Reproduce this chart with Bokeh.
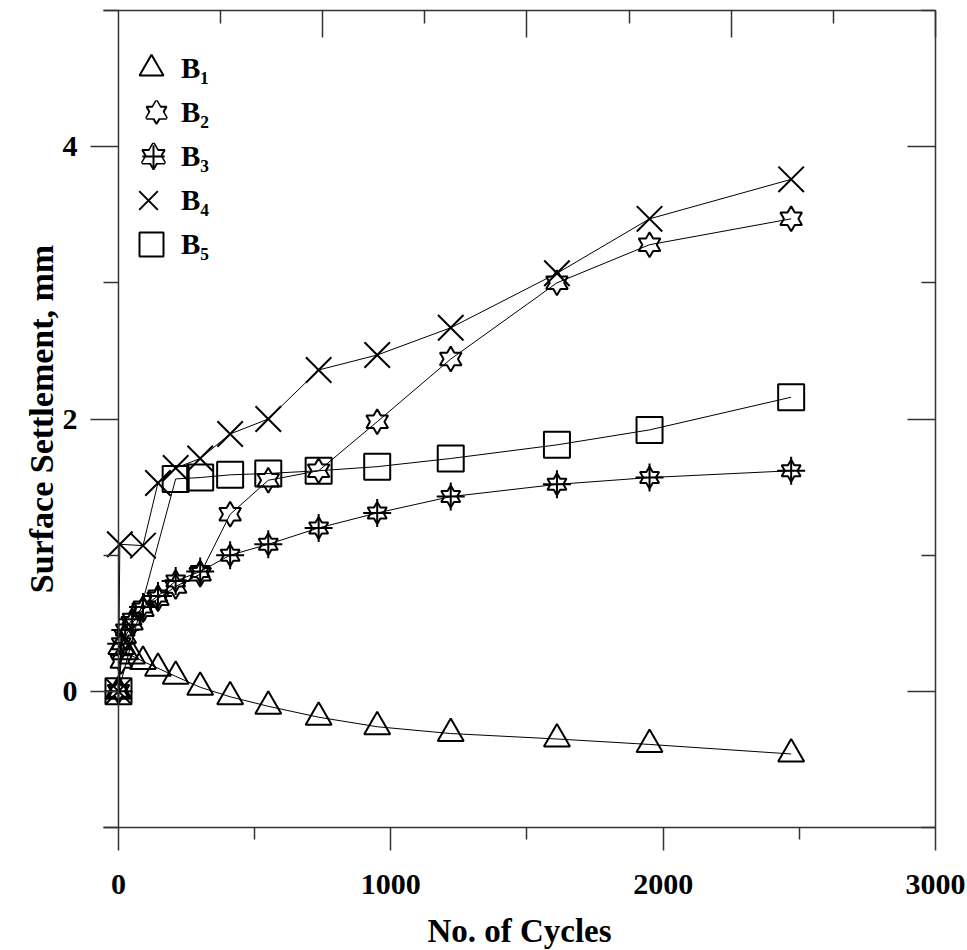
import math
from bokeh.plotting import figure
from bokeh.models import LinearAxis, FixedTicker, Span, Legend, LegendItem, Range1d
from bokeh.embed import file_html
from bokeh.resources import INLINE

# ---------------- data ----------------
cycles = [0, 10, 25, 50, 90, 145, 210, 300, 410, 550, 735, 950, 1220, 1610, 1950, 2470]
b1 = [0, 0.33, 0.29, 0.26, 0.22, 0.17, 0.11, 0.03, -0.04, -0.11, -0.19, -0.26, -0.31, -0.35, -0.39, -0.46]
b2 = [0, 0.22, 0.40, 0.50, 0.60, 0.68, 0.77, 0.86, 1.30, 1.55, 1.62, 1.98, 2.44, 3.00, 3.28, 3.47]
b3 = [0, 0.35, 0.45, 0.53, 0.62, 0.70, 0.81, 0.88, 1.00, 1.08, 1.20, 1.31, 1.43, 1.52, 1.57, 1.62]
cycles_b4 = [0, 5, 90, 145, 210, 300, 410, 550, 735, 950, 1220, 1610, 1950, 2470]
b4 = [0, 1.08, 1.07, 1.53, 1.64, 1.71, 1.89, 2.00, 2.36, 2.47, 2.67, 3.07, 3.47, 3.76]
cycles_b5 = [0, 210, 300, 410, 550, 735, 950, 1220, 1610, 1950, 2470]
b5 = [0, 1.56, 1.57, 1.59, 1.60, 1.62, 1.65, 1.71, 1.81, 1.92, 2.16]
series_labels = ["B\u2081", "B\u2082", "B\u2083", "B\u2084", "B\u2085"]

x_ticks = [0, 1000, 2000, 3000]
x_minor = [500, 1500, 2500]
top_ticks = [750, 1500, 2250, 3000]
top_minor = [375, 1125, 1875, 2625]
y_ticks = [0, 2, 4]
y_minor = [-1, 1, 3, 5]

# ---------------- layout / style ----------------
X0, X1 = -55, 3000
Y0, Y1 = -1, 5
FW, FH = 832, 817
FL, FT = 103, 10          # frame left / top in page pixels
FONT = "Liberation Serif"
AX = "#333333"
AXW = 1.5

p = figure(frame_width=FW, frame_height=FH,
           x_range=Range1d(X0, X1), y_range=Range1d(Y0, Y1),
           x_axis_type=None, y_axis_type=None,
           min_border_left=FL, min_border_right=32, min_border_top=FT, min_border_bottom=123,
           output_backend="svg", toolbar_location=None)
p.outline_line_color = None
p.background_fill_color = "white"
p.border_fill_color = "white"


def style(ax, ticks=None):
    ax.axis_line_color = AX
    ax.axis_line_width = AXW
    ax.major_tick_line_color = AX
    ax.major_tick_line_width = AXW
    ax.minor_tick_line_color = AX
    ax.minor_tick_line_width = AXW
    ax.major_label_text_font = FONT
    ax.major_label_text_font_style = "bold"
    ax.major_label_text_color = "black"
    ax.axis_label_text_font = FONT
    ax.axis_label_text_font_style = "bold"
    ax.axis_label_text_color = "black"
    if ticks is not None:
        ax.major_label_overrides = {t: "" for t in ticks}
        ax.major_label_standoff = 0


xb = LinearAxis(ticker=FixedTicker(ticks=x_ticks, minor_ticks=x_minor), axis_label="No. of Cycles")
style(xb)
xb.major_tick_out, xb.major_tick_in = 23, 0
xb.minor_tick_out, xb.minor_tick_in = 12, 0
xb.major_label_text_font_size = "30px"
xb.major_label_standoff = 24
xb.axis_label_text_font_size = "33px"
xb.axis_label_standoff = 16
p.add_layout(xb, "below")

yl = LinearAxis(ticker=FixedTicker(ticks=y_ticks, minor_ticks=y_minor), axis_label="Surface Settlement, mm")
style(yl)
yl.axis_line_color = None
yl.major_tick_out, yl.major_tick_in = 13, 15
yl.minor_tick_out, yl.minor_tick_in = 0, 15
yl.major_label_text_font_size = "30px"
yl.major_label_standoff = 13
yl.axis_label_text_font_size = "34px"
yl.axis_label_standoff = 0
p.add_layout(yl, "left")

yr = LinearAxis(ticker=FixedTicker(ticks=y_ticks, minor_ticks=y_minor))
style(yr, y_ticks)
yr.major_tick_out, yr.major_tick_in = 0, 28
yr.minor_tick_out, yr.minor_tick_in = 0, 14
p.add_layout(yr, "right")

xt = LinearAxis(ticker=FixedTicker(ticks=top_ticks, minor_ticks=top_minor))
style(xt, top_ticks)
xt.major_tick_out, xt.major_tick_in = 0, 27
xt.minor_tick_out, xt.minor_tick_in = 0, 13
p.add_layout(xt, "above")

p.add_layout(Span(location=0, dimension="height", line_color=AX, line_width=AXW))

# ---------------- data marks ----------------
KX = FW / (X1 - X0)
KY = FH / (Y1 - Y0)


def hexagrams(xs, ys, R):
    pxs, pys = [], []
    for cx, cy in zip(xs, ys):
        hx, hy = [], []
        for k in range(12):
            a = math.radians(90 + 30 * k)
            r = R if k % 2 == 0 else R / math.sqrt(3)
            hx.append(cx + r * math.cos(a) / KX)
            hy.append(cy + r * math.sin(a) / KY)
        pxs.append(hx)
        pys.append(hy)
    return pxs, pys


MK = dict(fill_alpha=0, line_color="black", line_width=2)
LN = dict(line_color="black", line_width=1)

# B1 triangles
p.scatter(cycles, b1, marker="triangle", size=26, **MK)
# B2 hexagram
hx, hy = hexagrams(cycles, b2, 12.5)
p.patches(hx, hy, fill_alpha=0, line_color="black", line_width=2)
# B3 hexagram + cross
hx3, hy3 = hexagrams(cycles, b3, 11)
p.patches(hx3, hy3, fill_alpha=0, line_color="black", line_width=2)
p.scatter(cycles, b3, marker="cross", size=28, **MK)
# B4 x
p.scatter(cycles_b4, b4, marker="x", size=36, **MK)
# B5 squares
p.scatter(cycles_b5, b5, marker="square", size=26, **MK)

p.line(cycles, b1, **LN)
p.line(cycles, b2, **LN)
p.line(cycles, b3, **LN)
p.line(cycles_b4, b4, **LN)
p.line(cycles_b5, b5, **LN)

# ---------------- legend (legend-only renderers, nothing drawn in the plot) ----------------
NAN = float("nan")
e = dict(x=[NAN], y=[NAN])
l_tri = p.scatter(marker="triangle", fill_alpha=0, line_color="black", line_width=2, **e)
l2a = p.scatter(marker="triangle", fill_color="white", line_color="black", line_width=3, **e)
l2b = p.scatter(marker="inverted_triangle", fill_color="white", line_color="black", line_width=2, **e)
l2c = p.scatter(marker="triangle", fill_color="white", line_color=None, **e)
l3a = p.scatter(marker="triangle", fill_color="white", line_color="black", line_width=3, **e)
l3b = p.scatter(marker="inverted_triangle", fill_color="white", line_color="black", line_width=2, **e)
l3c = p.scatter(marker="triangle", fill_color="white", line_color=None, **e)
l3d = p.scatter(marker="cross", line_color="black", line_width=2, **e)
l_x = p.scatter(marker="x", line_color="black", line_width=2, **e)
l_sq = p.scatter(marker="square", fill_alpha=0, line_color="black", line_width=2, **e)

legend_renderers = [[l_tri], [l2a, l2b, l2c], [l3a, l3b, l3c, l3d], [l_x], [l_sq]]
glyph_boxes = [60, 50, 56, 66, 60]     # legend marker size = 0.4 * box
LABEL_X, ROW0, ROWSTEP = 181, 68, 44
for i, (lab, rends, g) in enumerate(zip(series_labels, legend_renderers, glyph_boxes)):
    yc = ROW0 + i * ROWSTEP
    left = LABEL_X - g
    lg = Legend(items=[LegendItem(label=lab, renderers=rends)],
                location=(int(round(left - FL)), int(round((FT + FH) - yc - g / 2))),
                glyph_width=g, glyph_height=g, label_standoff=0,
                margin=0, padding=0, spacing=0,
                background_fill_alpha=0, border_line_color=None,
                label_text_font=FONT, label_text_font_style="bold", label_text_font_size="29px",
                label_text_color="black")
    p.add_layout(lg)

open("out.html", "w").write(file_html(p, INLINE))
